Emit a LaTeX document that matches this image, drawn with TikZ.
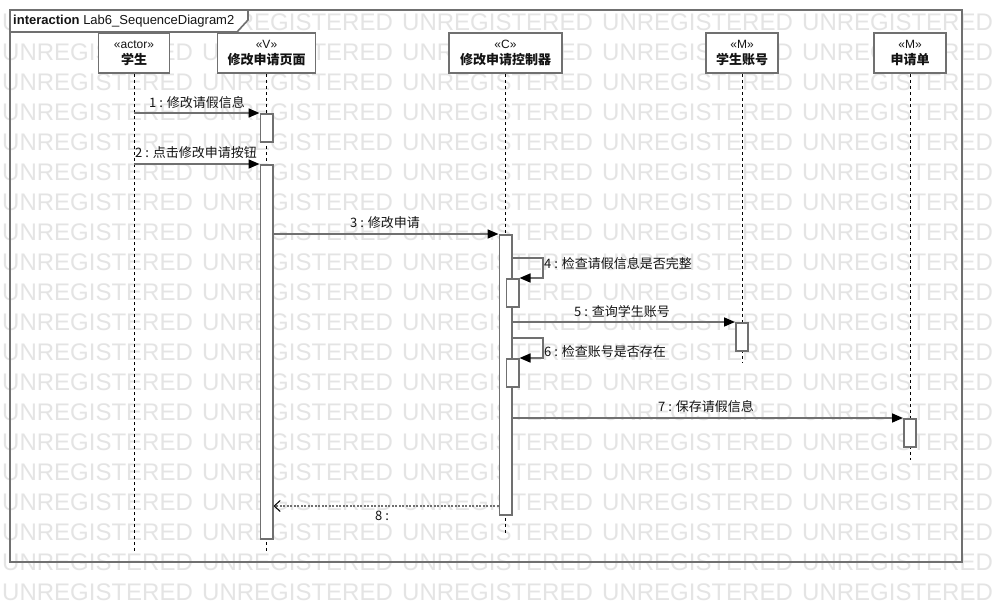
\documentclass[tikz,border=0pt]{standalone}
\usepackage{fontspec}
\setmainfont{Liberation Sans}
\newfontfamily\cjk{Noto Sans CJK SC}
\usetikzlibrary{arrows.meta}
\definecolor{lg}{RGB}{112,112,112}
\definecolor{wm}{RGB}{228,228,228}
\definecolor{tx}{RGB}{20,20,20}
\tikzset{
  head/.style={draw=lg, line width=1.6pt, fill=white, minimum height=40pt, inner sep=0pt, align=center, text=tx, font=\fontsize{12}{15.5}\selectfont},
  act/.style={draw=lg, line width=1.6pt, fill=white, minimum width=12.4pt, inner sep=0pt, anchor=north},
  life/.style={black, line width=0.8pt, dash pattern=on 3pt off 3pt},
  msg/.style={lg, line width=1.6pt, -{Triangle[length=11pt,width=9pt,color=black,fill=black]}},
  ret/.style={lg, line width=1.6pt, dash pattern=on 2pt off 1.5pt, -{Straight Barb[length=6pt,width=11pt,color=black,line width=1pt]}},
  lbl/.style={font=\cjk\fontsize{13}{15}\selectfont, text=tx, inner sep=0pt},
  wmk/.style={font=\fontsize{24}{24}\selectfont, text=wm, inner sep=0pt, anchor=west}
}
\newcommand{\stt}[1]{{\fontsize{12}{15.5}\selectfont #1}}
\newcommand{\ttl}[1]{{\cjk\bfseries\fontsize{13}{15.5}\selectfont #1}}
\begin{document}
\begin{tikzpicture}[x=1pt,y=-1pt]
\useasboundingbox (0,0) rectangle (1002,602);
\fill[white] (0,0) rectangle (1002,602);
% watermark
\foreach \j in {0,...,19}{
  \foreach \i in {0,...,5}{
    \node[wmk] (w\i-\j) at (2+200*\i, 22+30*\j) {UNREGISTERED};
  }
}
% frame
\draw[lg, line width=2pt] (10,10) rectangle (962,562);
\draw[lg, line width=1.6pt, fill=white] (10,10) -- (248,10) -- (248,20) -- (237,32) -- (10,32) -- cycle;
\node[anchor=west, inner sep=0pt, text=tx, font=\fontsize{13}{15}\selectfont] (title) at (13,21) {\textbf{interaction} Lab6\_SequenceDiagram2};

% lifeline heads
\node[head, minimum width=71pt] (h1) at (134,53) {\stt{«actor»}\\\ttl{学生}};
\node[head, minimum width=98pt] (h2) at (266.5,53) {\stt{«V»}\\\ttl{修改申请页面}};
\node[head, minimum width=113pt] (h3) at (505.5,53) {\stt{«C»}\\\ttl{修改申请控制器}};
\node[head, minimum width=72pt] (h4) at (742,53) {\stt{«M»}\\\ttl{学生账号}};
\node[head, minimum width=72pt] (h5) at (910,53) {\stt{«M»}\\\ttl{申请单}};

% lifeline ends
\coordinate (e1) at (134,552);
\coordinate (e2) at (266.5,552);
\coordinate (e3) at (505.5,533);
\coordinate (e4) at (742,363);
\coordinate (e5) at (910,460);
\draw[life] (h1.south) -- (e1);
\draw[life] (h2.south) -- (e2);
\draw[life] (h3.south) -- (e3);
\draw[life] (h4.south) -- (e4);
\draw[life] (h5.south) -- (e5);

% activations
\node[act, minimum height=28pt] (A1) at (266.5,113) {};
\node[act, minimum height=374pt] (A2) at (266.5,164) {};
\node[act, minimum height=280pt] (C1) at (505.5,234) {};
\node[act, minimum height=28pt] (C2) at (512.5,278) {};
\node[act, minimum height=28pt] (C3) at (512.5,358) {};
\node[act, minimum height=28pt] (S1) at (742,322) {};
\node[act, minimum height=28pt] (R1) at (910,418) {};

% messages
\coordinate (m1s) at (134,113);
\coordinate (m2s) at (134,164);
\draw[msg] (m1s) -- (A1.north west);
\node[lbl] (l1) at (197,103) {1 : 修改请假信息};
\draw[msg] (m2s) -- (A2.north west);
\node[lbl] (l2) at (196,153) {2 : 点击修改申请按钮};
\draw[msg] (A2.east |- C1.north west) -- (C1.north west);
\node[lbl] (l3) at (385,223) {3 : 修改申请};
\draw[msg] (C1.east |- 0,258) -- (543,258) |- (C2.north east);
\node[lbl, anchor=west] (l4) at (544,264) {4 : 检查请假信息是否完整};
\draw[msg] (C1.east |- S1.north west) -- (S1.north west);
\node[lbl] (l5) at (622,312) {5 : 查询学生账号};
\draw[msg] (C1.east |- 0,338) -- (543,338) |- (C3.north east);
\node[lbl, anchor=west] (l6) at (544,352) {6 : 检查账号是否存在};
\draw[msg] (C1.east |- R1.north west) -- (R1.north west);
\node[lbl] (l7) at (706,407) {7 : 保存请假信息};
\draw[ret] (C1.west |- 0,506) -- (A2.east |- 0,506);
\node[lbl] (l8) at (382,516) {8 :};
\end{tikzpicture}
\end{document}
